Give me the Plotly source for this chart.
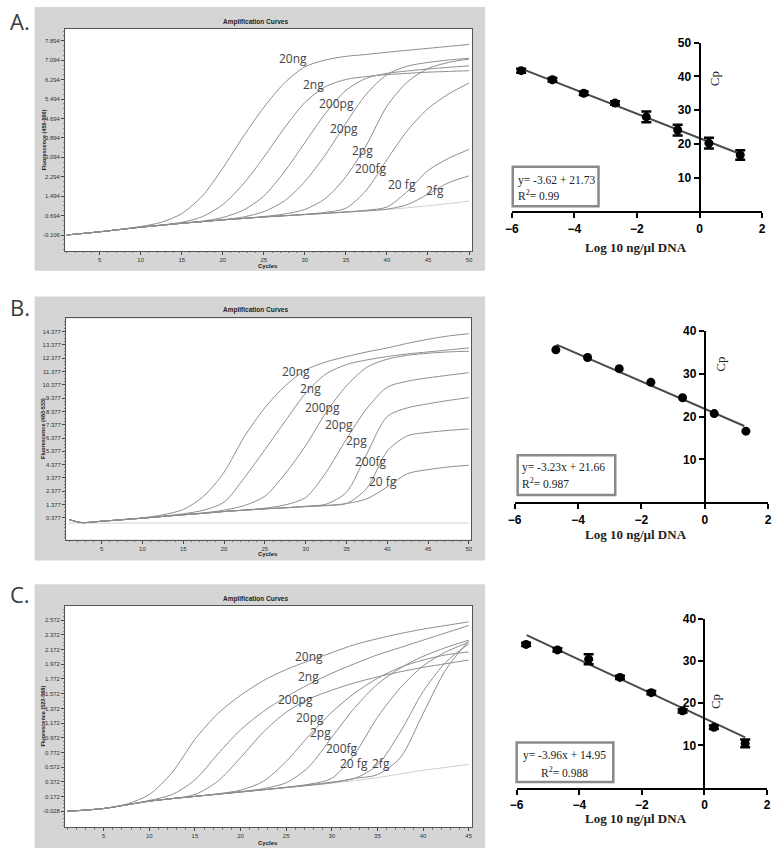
import plotly.graph_objects as go

# ---------------- DATA ----------------
# Panel A amplification curves (channel 450-500)
CYC_A = [1, 5, 10, 12.5, 15, 17.5, 20, 22.5, 25, 27.5, 30, 32.5, 35, 37.5, 40, 42.5, 45, 47.5, 50]
A_20ng = [-0.10, 0.03, 0.25, 0.42, 0.78, 1.50, 2.65, 3.95, 5.15, 6.15, 6.82, 7.10, 7.25, 7.33, 7.42, 7.50, 7.58, 7.66, 7.74]
A_2ng = [-0.10, 0.03, 0.22, 0.31, 0.42, 0.65, 1.15, 2.00, 3.10, 4.30, 5.35, 6.00, 6.30, 6.42, 6.50, 6.55, 6.60, 6.63, 6.66]
A_200pg = [-0.10, 0.03, 0.22, 0.30, 0.39, 0.47, 0.62, 0.92, 1.50, 2.50, 3.70, 4.90, 5.85, 6.35, 6.55, 6.65, 6.73, 6.80, 6.86]
A_20pg = [-0.10, 0.03, 0.22, 0.30, 0.38, 0.45, 0.53, 0.64, 0.86, 1.30, 2.10, 3.20, 4.50, 5.70, 6.50, 6.85, 7.00, 7.10, 7.17]
A_2pg = [-0.10, 0.03, 0.22, 0.30, 0.38, 0.45, 0.52, 0.58, 0.66, 0.76, 0.95, 1.40, 2.30, 3.60, 5.20, 6.20, 6.75, 7.00, 7.14]
A_200fg = [-0.10, 0.03, 0.22, 0.30, 0.38, 0.45, 0.52, 0.58, 0.64, 0.69, 0.75, 0.83, 1.00, 1.75, 3.00, 4.20, 5.10, 5.70, 6.15]
A_20fg = [-0.10, 0.03, 0.22, 0.30, 0.38, 0.45, 0.52, 0.58, 0.64, 0.69, 0.74, 0.79, 0.85, 0.92, 1.05, 1.70, 2.55, 3.05, 3.42]
A_2fg = [-0.10, 0.03, 0.22, 0.30, 0.38, 0.45, 0.52, 0.58, 0.64, 0.69, 0.74, 0.79, 0.84, 0.89, 0.96, 1.15, 1.58, 2.05, 2.33]
A_ntc = [-0.10, 0.03, 0.22, 0.30, 0.38, 0.45, 0.52, 0.58, 0.64, 0.69, 0.74, 0.79, 0.84, 0.89, 0.95, 1.02, 1.10, 1.19, 1.29]

# Panel B amplification curves (channel 483-533)
CYC_B = [1, 2.5, 5, 10, 12.5, 15, 17.5, 20, 22.5, 25, 27.5, 30, 32.5, 35, 37.5, 40, 42.5, 45, 47.5, 50]
B_20ng = [0.25, 0.02, 0.12, 0.38, 0.60, 1.00, 2.00, 3.80, 6.50, 8.65, 10.30, 11.50, 12.10, 12.50, 12.85, 13.15, 13.50, 13.80, 14.05, 14.22]
B_2ng = [0.25, 0.02, 0.12, 0.35, 0.50, 0.68, 0.95, 1.55, 3.40, 5.50, 7.65, 9.75, 11.20, 11.90, 12.25, 12.50, 12.70, 12.85, 13.00, 13.15]
B_200pg = [0.25, 0.02, 0.12, 0.35, 0.48, 0.62, 0.75, 0.95, 1.30, 2.00, 3.70, 5.80, 8.30, 10.30, 11.70, 12.30, 12.60, 12.75, 12.85, 12.90]
B_20pg = [0.25, 0.02, 0.12, 0.35, 0.48, 0.60, 0.72, 0.85, 0.97, 1.10, 1.35, 1.90, 3.80, 6.30, 8.60, 10.20, 10.65, 10.90, 11.10, 11.29]
B_2pg = [0.25, 0.02, 0.12, 0.35, 0.48, 0.60, 0.72, 0.85, 0.95, 1.05, 1.13, 1.25, 1.40, 2.30, 5.20, 8.00, 8.65, 8.95, 9.20, 9.42]
B_200fg = [0.25, 0.02, 0.12, 0.35, 0.48, 0.60, 0.72, 0.85, 0.95, 1.05, 1.13, 1.22, 1.30, 1.45, 2.60, 5.40, 6.55, 6.80, 6.95, 7.06]
B_20fg = [0.25, 0.02, 0.12, 0.35, 0.48, 0.60, 0.72, 0.85, 0.95, 1.05, 1.13, 1.22, 1.30, 1.45, 1.80, 2.70, 3.70, 4.00, 4.20, 4.33]
B_ntc = [-0.02] * 20

# Panel C amplification curves (channel 523-568)
CYC_C = [1, 5, 7.5, 10, 12.5, 15, 17.5, 20, 22.5, 25, 27.5, 30, 32.5, 35, 37.5, 40, 42.5, 45]
C_20ng = [-0.028, 0.01, 0.07, 0.20, 0.50, 0.95, 1.30, 1.55, 1.75, 1.90, 2.02, 2.13, 2.24, 2.32, 2.39, 2.45, 2.50, 2.55]
C_2ng = [-0.028, 0.01, 0.06, 0.12, 0.20, 0.40, 0.75, 1.08, 1.33, 1.53, 1.70, 1.85, 1.98, 2.10, 2.20, 2.30, 2.40, 2.50]
C_200pg = [-0.028, 0.01, 0.06, 0.11, 0.145, 0.20, 0.38, 0.70, 1.05, 1.32, 1.50, 1.62, 1.72, 1.80, 1.87, 1.93, 1.98, 2.03]
C_20pg = [-0.028, 0.01, 0.06, 0.11, 0.145, 0.175, 0.21, 0.26, 0.38, 0.65, 1.00, 1.32, 1.58, 1.78, 1.93, 2.03, 2.10, 2.14]
C_2pg = [-0.028, 0.01, 0.06, 0.11, 0.145, 0.175, 0.205, 0.24, 0.28, 0.36, 0.58, 0.98, 1.38, 1.70, 1.92, 2.08, 2.20, 2.30]
C_200fg = [-0.028, 0.01, 0.06, 0.11, 0.145, 0.175, 0.205, 0.235, 0.265, 0.30, 0.34, 0.42, 0.75, 1.25, 1.65, 1.95, 2.14, 2.27]
C_20fg = [-0.028, 0.01, 0.06, 0.11, 0.145, 0.175, 0.205, 0.235, 0.265, 0.295, 0.33, 0.37, 0.42, 0.60, 1.05, 1.60, 2.00, 2.25]
C_2fg = [-0.028, 0.01, 0.06, 0.11, 0.145, 0.175, 0.205, 0.235, 0.265, 0.295, 0.325, 0.36, 0.42, 0.47, 0.70, 1.30, 1.90, 2.29]
C_ntc = [-0.028, 0.01, 0.06, 0.11, 0.145, 0.175, 0.205, 0.235, 0.265, 0.295, 0.325, 0.355, 0.39, 0.43, 0.48, 0.53, 0.57, 0.61]

CURVE_LABELS = ["20ng", "2ng", "200pg", "20pg", "2pg", "200fg", "20 fg", "2fg"]

# Standard curves (Cp vs log10 ng/ul DNA)
LOGX_A = [-5.7, -4.7, -3.7, -2.7, -1.7, -0.7, 0.3, 1.3]
CP_A = [41.7, 39.0, 35.0, 32.1, 28.0, 24.1, 20.2, 16.7]
ERR_A = [0.6, 0.5, 0.5, 0.5, 1.6, 1.6, 1.6, 1.4]
FITX_A = [-5.7, 1.3]
FITY_A = [42.3, 17.0]

LOGX_B = [-4.7, -3.7, -2.7, -1.7, -0.7, 0.3, 1.3]
CP_B = [35.6, 33.8, 31.2, 28.0, 24.4, 20.7, 16.6]
FITX_B = [-4.68, 1.25]
FITY_B = [36.8, 17.8]

LOGX_C = [-5.7, -4.7, -3.7, -2.7, -1.7, -0.7, 0.3, 1.3]
CP_C = [33.9, 32.6, 30.4, 26.1, 22.5, 18.2, 14.3, 10.5]
ERR_C = [0.4, 0.4, 1.2, 0.4, 0.4, 0.4, 0.4, 0.9]
FITX_C = [-5.68, 1.3]
FITY_C = [36.1, 11.9]

EQ_A = ["y= -3.62 + 21.73", "R<sup>2</sup>= 0.99"]
EQ_B = ["y= -3.23x + 21.66", "R<sup>2</sup>= 0.987"]
EQ_C = ["y= -3.96x + 14.95", "R<sup>2</sup>= 0.988"]

# ---------------- LAYOUT HELPERS ----------------
W, H = 777, 848
def X(px):
    return px / W
def Y(py):
    return 1 - py / H

CURVE_COLOR = "#8e8e8e"
NTC_COLOR = "#cfcfcf"
SANS = "Liberation Sans, Arial, sans-serif"
SERIF = "Liberation Serif, Times New Roman, serif"

fig = go.Figure()
annotations = []
shapes = []

def add_curves(cyc, series, ntc, xa, ya):
    fig.add_trace(go.Scatter(x=cyc, y=ntc, mode="lines", xaxis=xa, yaxis=ya,
                             line=dict(color=NTC_COLOR, width=1, shape="spline"), hoverinfo="skip"))
    for s in series:
        fig.add_trace(go.Scatter(x=cyc, y=s, mode="lines", xaxis=xa, yaxis=ya,
                                 line=dict(color=CURVE_COLOR, width=1, shape="spline", smoothing=0.8),
                                 hoverinfo="skip"))

add_curves(CYC_A, [A_20ng, A_2ng, A_200pg, A_20pg, A_2pg, A_200fg, A_20fg, A_2fg], A_ntc, "x", "y")
add_curves(CYC_B, [B_20ng, B_2ng, B_200pg, B_20pg, B_2pg, B_200fg, B_20fg], B_ntc, "x3", "y3")
add_curves(CYC_C, [C_20ng, C_2ng, C_200pg, C_20pg, C_2pg, C_200fg, C_20fg, C_2fg], C_ntc, "x5", "y5")

def add_std(lx, cp, err, fx, fy, xa, ya):
    fig.add_trace(go.Scatter(x=fx, y=fy, mode="lines", xaxis=xa, yaxis=ya,
                             line=dict(color="#4a4a4a", width=2), hoverinfo="skip"))
    kw = {}
    if err is not None:
        kw["error_y"] = dict(type="data", array=err, visible=True, color="black", thickness=2.5, width=5)
    fig.add_trace(go.Scatter(x=lx, y=cp, mode="markers", xaxis=xa, yaxis=ya, cliponaxis=False,
                             marker=dict(color="black", size=9), hoverinfo="skip", **kw))

add_std(LOGX_A, CP_A, ERR_A, FITX_A, FITY_A, "x2", "y2")
add_std(LOGX_B, CP_B, None, FITX_B, FITY_B, "x4", "y4")
add_std(LOGX_C, CP_C, ERR_C, FITX_C, FITY_C, "x6", "y6")

layout = dict(width=W, height=H, margin=dict(l=0, r=0, t=0, b=0), showlegend=False,
              paper_bgcolor="white", plot_bgcolor="rgba(0,0,0,0)")

# ---- left amplification panels ----
def left_axes(xn, yn, xd, yd, xr, yr, yticks, yfmt):
    layout["xaxis" + xn] = dict(domain=[X(xd[0]), X(xd[1])], range=xr, anchor="y" + yn,
                                tickvals=list(range(5, int(xr[1]) + 1, 5)),
                                ticks="outside", ticklen=3, tickcolor="#444", tickwidth=1,
                                tickfont=dict(size=6, color="#333", family=SANS),
                                showline=True, mirror=True, linecolor="#555", linewidth=1,
                                showgrid=False, zeroline=False,
                                minor=dict(ticks="outside", ticklen=1.5, dtick=1, tickcolor="#777"))
    layout["yaxis" + yn] = dict(domain=[Y(yd[1]), Y(yd[0])], range=yr, anchor="x" + xn,
                                tickvals=yticks, ticktext=[yfmt % v for v in yticks],
                                ticks="outside", ticklen=3, tickcolor="#444", tickwidth=1,
                                tickfont=dict(size=6, color="#333", family=SANS),
                                showline=True, mirror=True, linecolor="#555", linewidth=1,
                                showgrid=False, zeroline=False,
                                minor=dict(ticks="outside", ticklen=1.5, tickcolor="#888",
                                           dtick=(yticks[1] - yticks[0]) / 4, tick0=yticks[0]))

ytA = [-0.106 + 0.8 * k for k in range(11)]
ytB = [0.377 + 1.0 * k for k in range(15)]
ytC = [-0.028 + 0.2 * k for k in range(14)]
left_axes("", "", (59, 472), (22, 246), [0.8, 50.4], [-0.759, 8.384], ytA, "%.3f")
left_axes("3", "3", (60, 471), (314, 537), [0.65, 50.3], [-1.26, 15.37], ytB, "%.3f")
left_axes("5", "5", (59, 472), (604, 827), [0.78, 45.4], [-0.244, 2.765], ytC, "%.3f")

# gray frames & white plot areas
for (gy0, gy1), (px0, px1, py0, py1) in [((0, 266), (59, 472, 22, 246)),
                                         ((292, 558), (60, 471, 314, 537)),
                                         ((582, 848), (59, 472, 604, 827))]:
    shapes.append(dict(type="rect", xref="paper", yref="paper", layer="below",
                       x0=X(28), x1=X(485), y0=Y(gy1), y1=Y(gy0),
                       fillcolor="#d5d5d5", line=dict(width=0)))
    shapes.append(dict(type="rect", xref="paper", yref="paper", layer="below",
                       x0=X(px0), x1=X(px1), y0=Y(py1), y1=Y(py0),
                       fillcolor="white", line=dict(width=0)))

def ptext(txt, x, y, size, color="#333", family=SANS, angle=0, xanchor="center", weight=None):
    f = dict(size=size, color=color, family=family)
    if weight:
        f["weight"] = weight
    annotations.append(dict(text=txt, x=X(x), y=Y(y), xref="paper", yref="paper",
                            showarrow=False, textangle=angle, xanchor=xanchor, yanchor="middle",
                            font=f))

# panel letters
ptext("A.", 13, 14, 22, "#3a3a3a", "Open Sans, sans-serif")
ptext("B.", 13, 302, 22, "#3a3a3a", "Open Sans, sans-serif")
ptext("C.", 13, 592, 22, "#3a3a3a", "Open Sans, sans-serif")

for ty, cy, fy, ch in [(15, 261, 134, "450-500"), (306, 552, 425, "483-533"), (597, 843, 715, "523-568")]:
    ptext("Amplification Curves", 252, ty, 6.5, "#222", weight="bold")
    ptext("Cycles", 265, cy, 6, "#222", weight="bold")
    ptext("Fluorescence (%s)" % ch, 37, fy, 5.5, "#222", angle=-90, weight="bold")

# curve labels (data coords)
LBL_A = [(28.6, 7.16), (31.0, 6.10), (33.8, 5.32), (34.8, 4.30), (37.0, 3.36), (38.0, 2.63), (41.8, 1.98), (45.9, 1.73)]
LBL_B = [(28.8, 11.41), (30.6, 10.07), (32.1, 8.66), (34.1, 7.39), (36.2, 6.20), (38.0, 4.63), (39.5, 3.14)]
LBL_C = [(27.5, 2.077), (27.5, 1.807), (26.0, 1.497), (27.6, 1.25), (28.8, 1.045), (31.1, 0.822), (32.4, 0.62), (35.4, 0.62)]
for pos, xa, ya in [(LBL_A, "x", "y"), (LBL_B, "x3", "y3"), (LBL_C, "x5", "y5")]:
    for name, (cx, cy) in zip(CURVE_LABELS, pos):
        annotations.append(dict(text=name, x=cx, y=cy, xref=xa, yref=ya, showarrow=False,
                                font=dict(size=12, color="#444", family="Open Sans, sans-serif")))

# ---- right standard-curve panels ----
def right_axes(xn, yn, xd, yd, yr, ytv, zero_px):
    tf = dict(size=12, color="black", family="Liberation Sans, Arial", weight="bold")
    layout["xaxis" + xn] = dict(domain=[X(xd[0]), X(xd[1])], range=[-6, 2], anchor="y" + yn,
                                tickvals=[-6, -4, -2, 0, 2], ticks="outside", ticklen=5, tickwidth=2,
                                tickcolor="black", showline=True, linecolor="black", linewidth=2,
                                tickfont=tf, showgrid=False, zeroline=False)
    layout["yaxis" + yn] = dict(domain=[Y(yd[1]), Y(yd[0])], range=yr, anchor="free",
                                position=X(zero_px),
                                tickvals=ytv, ticks="outside", ticklen=5, tickwidth=2,
                                tickcolor="black", showline=True, linecolor="black", linewidth=2,
                                tickfont=tf, showgrid=False, zeroline=False)

right_axes("2", "2", (512, 766), (36, 206), [0, 50], [10, 20, 30, 40, 50], 702.5)
right_axes("4", "4", (515, 772), (326.7, 499.3), [0, 40], [10, 20, 30, 40], 707.8)
right_axes("6", "6", (517, 771), (616.7, 787.3), [0, 40], [10, 20, 30, 40], 707.5)

for xt_y, cp_xy in [(242, (718, 72)), (532, (723, 360)), (818, (718, 700))]:
    ptext("Log 10 ng/µl DNA", 638, xt_y, 13, "#222", SERIF, weight="bold")
    ptext("Cp", cp_xy[0], cp_xy[1], 13, "#222", SERIF, angle=-90)

# equation boxes
for (bx0, bx1, by0, by1), eq, l1, l2, tx, anc in [
        ((513, 600, 161, 201), EQ_A, 174.5, 189.5, 516, "left"),
        ((518, 617, 452, 492), EQ_B, 464, 480, 520, "left"),
        ((517, 615, 741.5, 781.5), EQ_C, 755, 771, 566, "center")]:
    shapes.append(dict(type="rect", xref="paper", yref="paper", x0=X(bx0), x1=X(bx1),
                       y0=Y(by1), y1=Y(by0), line=dict(color="#8a8a8a", width=2.5),
                       fillcolor="white", layer="below"))
    ptext(eq[0], tx, l1, 11.5, "#222", SERIF, xanchor=anc)
    ptext(eq[1], tx, l2, 11.5, "#222", SERIF, xanchor=anc)

layout["annotations"] = annotations
layout["shapes"] = shapes
fig.update_layout(**layout)
fig.write_html("out.html", config={"displayModeBar": False},
               post_script="document.body.style.margin='0';document.body.style.overflow='hidden';")
